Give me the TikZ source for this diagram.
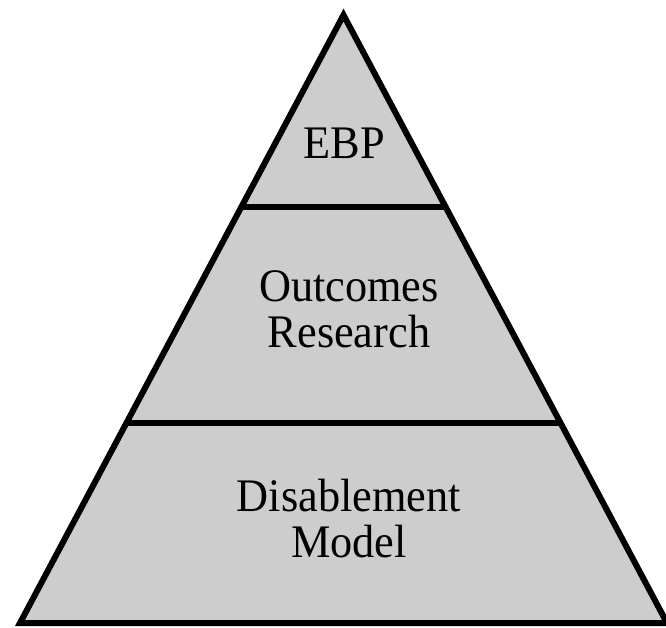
\documentclass[tikz,border=0pt]{standalone}
\usepackage{fontspec}
\setmainfont{Liberation Serif}[FakeStretch=0.95]
\usetikzlibrary{calc}
\definecolor{pyramid}{RGB}{205,205,205}

\begin{document}
\begin{tikzpicture}[x=0.75pt, y=-0.75pt, edge/.style = {line width=4.5pt, line join=miter}, tier/.style = {align=center, font=\fontsize{35}{34.5}\selectfont, inner sep=0pt}]
    \useasboundingbox (0,0) rectangle (666,627);

    % pyramid
    \coordinate (apex) at (343.5,15);
    \coordinate (bl) at (20,623);
    \coordinate (br) at (667,623);
    \draw[edge, fill=pyramid] (apex) -- (bl) -- (br) -- cycle;

    % tier borders
    \draw[edge] ($(apex)!0.315!(bl)$) coordinate (t1l) -- ($(apex)!0.315!(br)$) coordinate (t1r);
    \draw[edge] ($(apex)!0.6706!(bl)$) coordinate (t2l) -- ($(apex)!0.6706!(br)$) coordinate (t2r);

    % labels
    \node[tier] (ebp) at (344,143.5) {EBP};
    \node[tier] (outcomes) at (349,309) {Outcomes\\Research};
    \node[tier] (disable) at (349,519) {Disablement\\Model};

\end{tikzpicture}
\end{document}
